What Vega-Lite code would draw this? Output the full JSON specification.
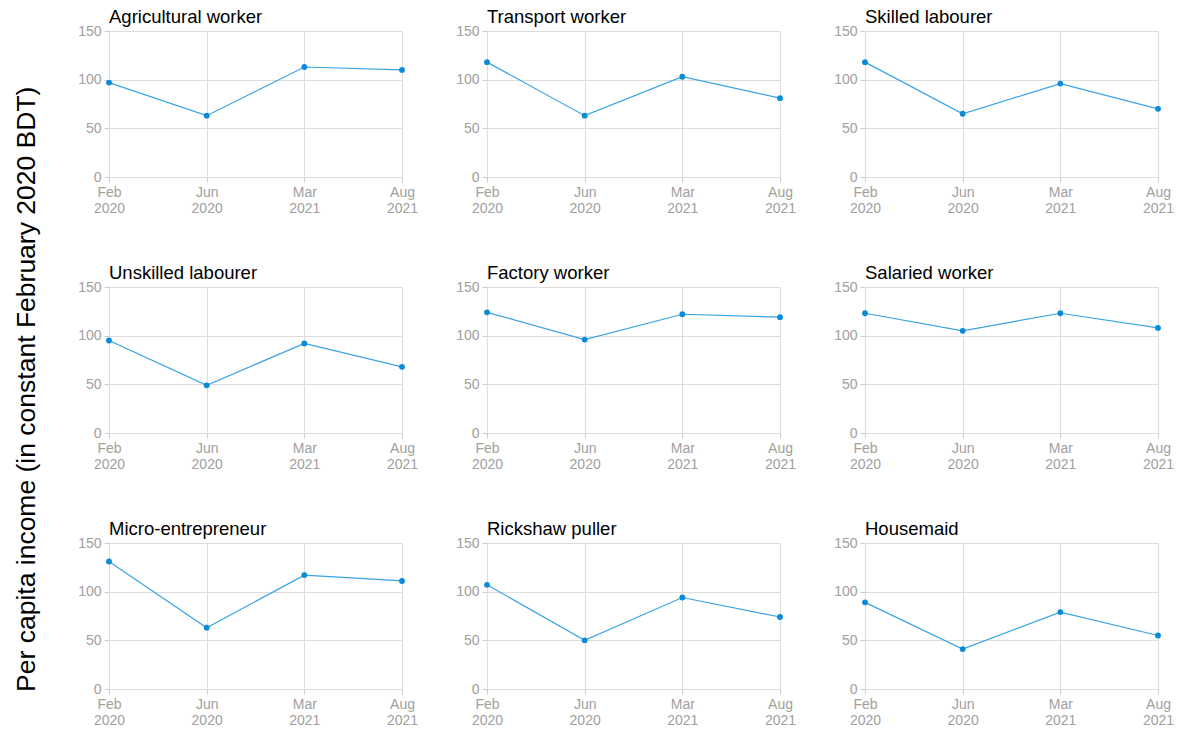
{
  "$schema": "https://vega.github.io/schema/vega-lite/v6.json",
  "padding": {"left": 14, "top": 7, "right": 5, "bottom": 2},
  "bounds": "flush",
  "spacing": {"column": 85, "row": 110},
  "title": {"text": "Per capita income (in constant February 2020 BDT)", "orient": "left", "anchor": "middle", "fontSize": 26.5, "fontWeight": "normal", "font": "Liberation Sans", "color": "#000", "offset": 37, "dx": -22},
  "data": {"values": [
    {"job": "Agricultural worker", "period": "Feb 2020", "income": 97},
    {"job": "Agricultural worker", "period": "Jun 2020", "income": 63},
    {"job": "Agricultural worker", "period": "Mar 2021", "income": 113},
    {"job": "Agricultural worker", "period": "Aug 2021", "income": 110},
    {"job": "Transport worker", "period": "Feb 2020", "income": 118},
    {"job": "Transport worker", "period": "Jun 2020", "income": 63},
    {"job": "Transport worker", "period": "Mar 2021", "income": 103},
    {"job": "Transport worker", "period": "Aug 2021", "income": 81},
    {"job": "Skilled labourer", "period": "Feb 2020", "income": 118},
    {"job": "Skilled labourer", "period": "Jun 2020", "income": 65},
    {"job": "Skilled labourer", "period": "Mar 2021", "income": 96},
    {"job": "Skilled labourer", "period": "Aug 2021", "income": 70},
    {"job": "Unskilled labourer", "period": "Feb 2020", "income": 95},
    {"job": "Unskilled labourer", "period": "Jun 2020", "income": 49},
    {"job": "Unskilled labourer", "period": "Mar 2021", "income": 92},
    {"job": "Unskilled labourer", "period": "Aug 2021", "income": 68},
    {"job": "Factory worker", "period": "Feb 2020", "income": 124},
    {"job": "Factory worker", "period": "Jun 2020", "income": 96},
    {"job": "Factory worker", "period": "Mar 2021", "income": 122},
    {"job": "Factory worker", "period": "Aug 2021", "income": 119},
    {"job": "Salaried worker", "period": "Feb 2020", "income": 123},
    {"job": "Salaried worker", "period": "Jun 2020", "income": 105},
    {"job": "Salaried worker", "period": "Mar 2021", "income": 123},
    {"job": "Salaried worker", "period": "Aug 2021", "income": 108},
    {"job": "Micro-entrepreneur", "period": "Feb 2020", "income": 131},
    {"job": "Micro-entrepreneur", "period": "Jun 2020", "income": 63},
    {"job": "Micro-entrepreneur", "period": "Mar 2021", "income": 117},
    {"job": "Micro-entrepreneur", "period": "Aug 2021", "income": 111},
    {"job": "Rickshaw puller", "period": "Feb 2020", "income": 107},
    {"job": "Rickshaw puller", "period": "Jun 2020", "income": 50},
    {"job": "Rickshaw puller", "period": "Mar 2021", "income": 94},
    {"job": "Rickshaw puller", "period": "Aug 2021", "income": 74},
    {"job": "Housemaid", "period": "Feb 2020", "income": 89},
    {"job": "Housemaid", "period": "Jun 2020", "income": 41},
    {"job": "Housemaid", "period": "Mar 2021", "income": 79},
    {"job": "Housemaid", "period": "Aug 2021", "income": 55}
  ]},
  "facet": {
    "field": "job",
    "type": "nominal",
    "sort": ["Agricultural worker", "Transport worker", "Skilled labourer", "Unskilled labourer", "Factory worker", "Salaried worker", "Micro-entrepreneur", "Rickshaw puller", "Housemaid"],
    "header": {"title": null, "labelAnchor": "start", "labelFontSize": 18.5, "labelColor": "#000", "labelFont": "Liberation Sans", "labelPadding": -2, "labelOrient": "top", "labelAlign": "left"}
  },
  "columns": 3,
  "resolve": {"axis": {"x": "independent", "y": "independent"}},
  "spec": {
    "width": 293,
    "height": 146,
    "layer": [
      {"mark": {"type": "line", "color": "#3aa3e3", "strokeWidth": 1.2}},
      {"mark": {"type": "point", "filled": true, "color": "#0b8ad8", "size": 34, "opacity": 1}}
    ],
    "encoding": {
      "x": {"field": "period", "type": "ordinal", "sort": ["Feb 2020", "Jun 2020", "Mar 2021", "Aug 2021"],
        "scale": {"type": "point", "padding": 0},
        "axis": {"title": null, "labelAngle": 0, "labelExpr": "split(datum.label, ' ')", "labelColor": "#a0a0a0", "labelFontSize": 14, "labelFont": "Liberation Sans", "grid": true, "gridColor": "#ddd", "domain": false, "tickColor": "#ccc", "tickSize": 5, "labelPadding": 3, "labelLineHeight": 16}},
      "y": {"field": "income", "type": "quantitative",
        "scale": {"domain": [0, 150], "nice": false},
        "axis": {"title": null, "values": [0, 50, 100, 150], "labelColor": "#a0a0a0", "labelFontSize": 14, "labelFont": "Liberation Sans", "gridColor": "#ddd", "domain": false, "tickColor": "#ccc", "tickSize": 5, "labelPadding": 3}}
    }
  },
  "config": {"view": {"stroke": null}}
}
